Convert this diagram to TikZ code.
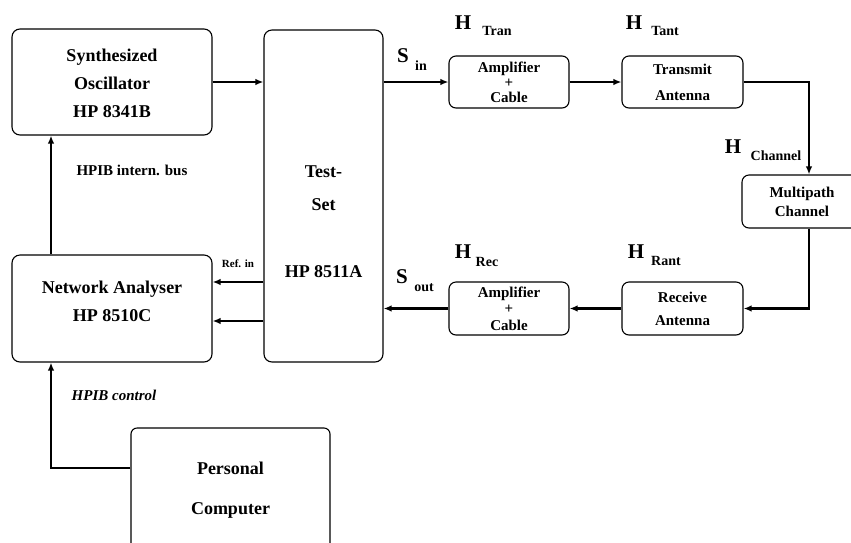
\documentclass[tikz,border=0pt]{standalone}
\usepackage{fontspec}
\setmainfont{Liberation Serif}
\usetikzlibrary{arrows.meta}
\begin{document}
\begin{tikzpicture}[x=1pt,y=-1pt,
  bigbox/.style={draw, line width=1.1pt, rounded corners=8pt, inner sep=0pt},
  smallbox/.style={draw, line width=1.1pt, rounded corners=7pt, inner sep=0pt, font=\fontsize{15}{18}\selectfont\bfseries, align=center, minimum width=120pt, minimum height=52pt},
  btext/.style={inner sep=0pt, align=center, font=\fontsize{18}{28}\selectfont\bfseries},
  arr/.style={line width=2.4pt, -{Latex[length=8pt,width=6.5pt]}},
  lbl/.style={inner sep=0pt, anchor=base, font=\fontsize{15}{18}\selectfont\bfseries},
  bigsym/.style={inner sep=0pt, anchor=base, font=\fontsize{21}{24}\selectfont\bfseries},
  subsym/.style={inner sep=0pt, anchor=base, font=\fontsize{14}{16}\selectfont\bfseries},
]
\path[use as bounding box, clip] (0,0) rectangle (851,542);

% boxes
\node[bigbox, minimum width=200pt, minimum height=106pt] (osc) at (112,82) {};
\node[btext] (osctext) at (112,83) {Synthesized\\Oscillator\\HP 8341B};

\node[bigbox, minimum width=119pt, minimum height=332pt] (ts) at (323.5,196) {};
\node[btext, font=\fontsize{18}{33}\selectfont\bfseries] (tstext) at (323.5,222) {Test-\\Set\\[34pt]HP 8511A};

\node[bigbox, minimum width=200pt, minimum height=107pt] (na) at (112,308.5) {};
\node[btext] (natext) at (112,301) {Network Analyser\\HP 8510C};

\node[draw, line width=1.1pt, rounded corners=6pt, inner sep=0pt, minimum width=199pt, minimum height=124pt,
      align=center, font=\fontsize{18}{40}\selectfont\bfseries] (pc) at (230.5,490) {Personal\\Computer};

\node[smallbox] (amp1) at (509,82) {Amplifier\\[-3pt]+\\[-3pt]Cable};
\node[smallbox, minimum width=121pt] (tant) at (682.5,82) {Transmit\\[8pt]Antenna};
\node[smallbox, minimum width=134pt, minimum height=53pt] (mp) at (809,201.5) {};
\node[inner sep=0pt, align=center, font=\fontsize{15}{19}\selectfont\bfseries] (mptext) at (802,202) {Multipath\\Channel};
\node[smallbox, minimum width=121pt, minimum height=53pt] (rant) at (682.5,308.5) {Receive\\[5pt]Antenna};
\node[smallbox, minimum height=53pt] (amp2) at (509,308.5) {Amplifier\\[-1.5pt]+\\[-1.5pt]Cable};

% connectors
\coordinate (refy) at (0,282);
\coordinate (ref2) at (0,321);
\coordinate (busx) at (51,0);
\coordinate (pcy) at (0,468);
\draw[arr] (osc.east) -- (osc.east -| ts.west);
\draw[arr] (ts.east |- amp1.west) -- (amp1.west);
\draw[arr] (amp1.east) -- (tant.west);
\draw[arr] (tant.east) -| (mp.north);
\draw[arr] (mp.south) |- (rant.east);
\draw[arr] (rant.west) -- (amp2.east);
\draw[arr] (amp2.west) -- (amp2.west -| ts.east);
\draw[arr] (ts.west |- refy) -- (na.east |- refy);
\draw[arr] (ts.west |- ref2) -- (na.east |- ref2);
\draw[arr] (na.north -| busx) -- (osc.south -| busx);
\draw[arr] (pc.west |- pcy) -| (na.south -| busx);

% labels
\node[lbl] (busl) at (132,175) {HPIB intern. bus};
\node[lbl, font=\fontsize{11}{13}\selectfont\bfseries] (refl) at (238,267) {Ref. in};
\node[lbl, font=\fontsize{15}{18}\selectfont\bfseries\itshape] (ctl) at (114,400) {HPIB control};

\node[bigsym] (sin) at (403,62) {S};
\node[subsym] (sinsub) at (421,70) {in};
\node[bigsym] (sout) at (402,283) {S};
\node[subsym] (soutsub) at (424,291) {out};
\node[bigsym] (htr) at (463,29) {H};
\node[subsym] (htrsub) at (497,35) {Tran};
\node[bigsym] (hta) at (634,29) {H};
\node[subsym] (htasub) at (665,35) {Tant};
\node[bigsym] (hch) at (733,153) {H};
\node[subsym] (hchsub) at (776,160) {Channel};
\node[bigsym] (hre) at (463,258) {H};
\node[subsym] (hresub) at (487,266) {Rec};
\node[bigsym] (hra) at (636,258) {H};
\node[subsym] (hrasub) at (666,265) {Rant};
\end{tikzpicture}
\end{document}
